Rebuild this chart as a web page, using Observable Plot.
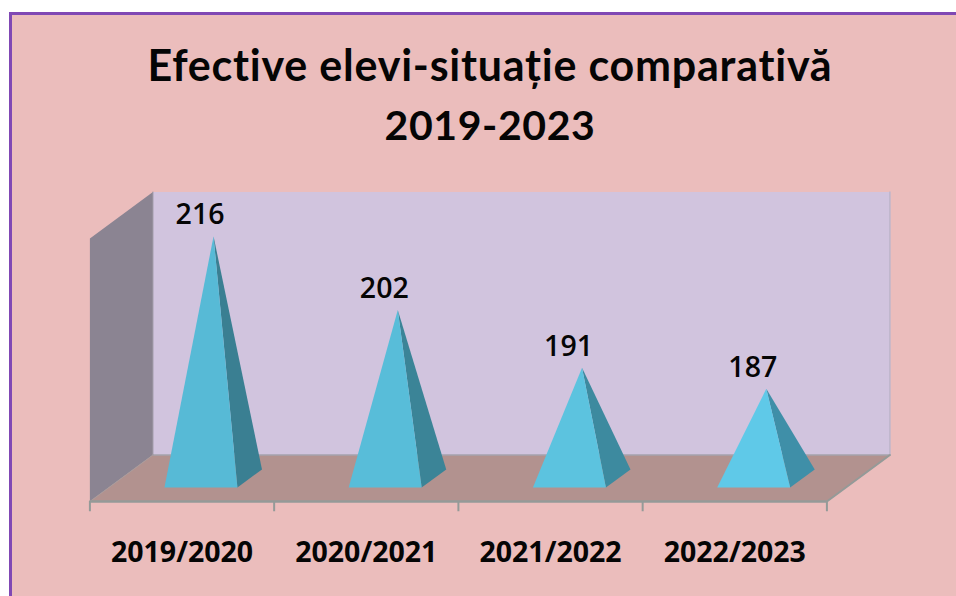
<!DOCTYPE html>
<html lang="ro">
<head>
<meta charset="utf-8">
<script src="https://cdn.jsdelivr.net/npm/d3@7"></script>
<script src="https://cdn.jsdelivr.net/npm/@observablehq/plot@0.6"></script>
<style>
html,body{margin:0;padding:0;background:#fff;width:956px;height:596px;overflow:hidden}
#panel{position:absolute;left:9px;top:12px;width:947px;height:584px;box-sizing:border-box;background:#EBBDBC;border-left:3px solid #8048B4;border-top:3px solid #8048B4}
#title{position:absolute;left:12px;top:35px;width:956px;text-align:center;font:700 43px/59px Lato,sans-serif;color:#050505;white-space:nowrap;font-variant-ligatures:none;letter-spacing:.77px}
#title span{font-size:41px;letter-spacing:.6px}
#chart{position:absolute;left:0;top:180px}
</style>
</head>
<body>
<div id="panel"></div>
<div id="title">Efective elevi-situație comparativă<br><span>2019-2023</span></div>
<div id="chart"></div>
<script>
const years = ["2019/2020", "2020/2021", "2021/2022", "2022/2023"];
const students = [216, 202, 191, 187];
const frontColors = ["#57BAD6", "#58BDD9", "#5CC3DF", "#5FC9E8"];
const sideColors = ["#3A7F92", "#3B8497", "#3D8A9F", "#3F8FA8"];

const yMin = 170, yMax = 220;
const n = years.length;
// oblique projection of the 3-D box: depth 0 = front, depth 1 = back wall
const DX = 0.342, DY = 8.84;
const p = (i, v, d) => ({x: i + d * DX, y: v + d * DY});

const poly = (pts, fill, stroke = "none", sw = 0) =>
  Plot.line([...pts, pts[0]], {x: "x", y: "y", fill, stroke, strokeWidth: sw, curve: "linear"});
const edge = (a, b, stroke, sw) =>
  Plot.line([a, b], {x: "x", y: "y", stroke, strokeWidth: sw, curve: "linear"});

const wall = [p(0, yMin, 1), p(n, yMin, 1), p(n, yMax, 1), p(0, yMax, 1)];
const side = [p(0, yMin, 0), p(0, yMin, 1), p(0, yMax, 1), p(0, yMax, 0)];
const floor = [p(0, yMin, 0), p(n, yMin, 0), p(n, yMin, 1), p(0, yMin, 1)];

const hw = 0.198, d0 = 0.3, d1 = 0.69;
const pyramids = students.flatMap((v, i) => {
  const c = i + 0.5;
  const apex = p(c, v, 0.5);
  return [
    poly([p(c + hw, yMin, d0), p(c + hw, yMin, d1), apex], sideColors[i]),
    poly([p(c - hw, yMin, d0), p(c + hw, yMin, d0), apex], frontColors[i])
  ];
});

const chart = Plot.plot({
  width: 956,
  height: 416,
  margin: 0,
  style: {background: "transparent", overflow: "visible"},
  x: {domain: [0, n], range: [89.4, 826.4], axis: null},
  y: {domain: [yMin, yMax], range: [321, 58], axis: null},
  marks: [
    poly(wall, "#D1C4DE"),
    poly(side, "#8B8492"),
    poly(floor, "#B2928F"),
    edge(p(0, yMin, 1), p(n, yMin, 1), "#A5A2AC", 1.5),
    edge(p(n, yMin, 1), p(n, yMax, 1), "#BDB6CB", 1.5),
    edge(p(0, yMin, 1), p(0, yMax, 1), "#9A96A4", 1),
    edge(p(n, yMin, 0), p(n, yMin, 1), "#949A98", 2),
    edge(p(0, yMin, 0), p(0, yMin, 1), "#A89C9C", 1),
    Plot.ruleY([yMin], {x1: 0, x2: n, stroke: "#949A98", strokeWidth: 2.5}),
    Plot.ruleX(d3.range(n + 1), {y1: yMin, y2: yMin - 1.95, stroke: "#949A98", strokeWidth: 2}),
    ...pyramids,
    Plot.text(students, {
      x: (v, i) => p(i + 0.5, v, 0.5).x,
      y: (v, i) => p(i + 0.5, v, 0.5).y,
      text: d => String(d),
      dx: -13.5, dy: -21,
      fontFamily: "Open Sans", fontSize: 28.5, fontWeight: 600, fill: "#050505"
    }),
    Plot.text(years, {
      x: (d, i) => i + 0.5,
      y: yMin,
      text: d => d,
      dy: 51,
      fontFamily: "Open Sans", fontSize: 28.5, fontWeight: 700, letterSpacing: 1.2, fill: "#050505"
    })
  ]
});
document.getElementById("chart").appendChild(chart);
</script>
</body>
</html>
